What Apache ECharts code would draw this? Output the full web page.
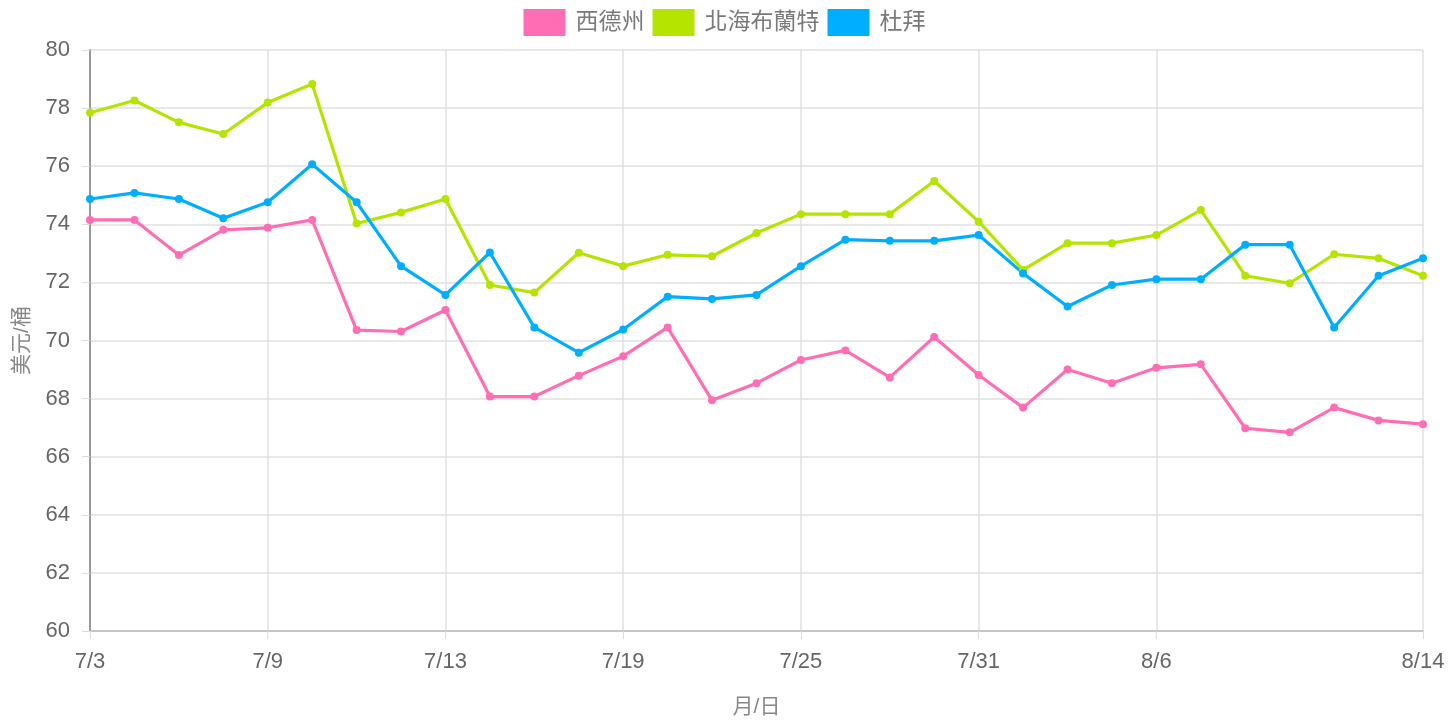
<!DOCTYPE html>
<html><head><meta charset="utf-8">
<script src="https://cdn.jsdelivr.net/npm/echarts@6/dist/echarts.min.js"></script>
<style>html,body{margin:0;padding:0;background:#fff}#c{width:1449px;height:722px}</style>
</head><body><div id="c"></div>
<script>
const categories = ['7/3','7/4','7/5','7/6','7/9','7/10','7/11','7/12','7/13','7/16','7/17','7/18','7/19','7/20','7/23','7/24','7/25','7/26','7/27','7/30','7/31','8/1','8/2','8/3','8/6','8/7','8/8','8/9','8/10','8/13','8/14'];
const wti = [74.15,74.15,72.94,73.81,73.88,74.15,70.36,70.31,71.05,68.07,68.07,68.79,69.46,70.45,67.94,68.53,69.33,69.66,68.73,70.12,68.81,67.69,69.0,68.53,69.06,69.18,66.98,66.84,67.69,67.25,67.12];
const brent = [77.84,78.26,77.51,77.11,78.19,78.83,74.03,74.41,74.87,71.91,71.65,73.02,72.56,72.95,72.9,73.7,74.35,74.35,74.35,75.49,74.09,72.43,73.35,73.35,73.63,74.49,72.23,71.97,72.97,72.83,72.23];
const dubai = [74.87,75.08,74.87,74.21,74.76,76.07,74.76,72.56,71.57,73.03,70.45,69.58,70.38,71.51,71.43,71.57,72.56,73.47,73.43,73.43,73.63,72.31,71.17,71.91,72.11,72.11,73.3,73.3,70.45,72.23,72.83];
const seriesNames = ['西德州','北海布蘭特','杜拜'];
const colors = ['#ff6eb4','#b4e400','#00aeff'];
const shown = i => (i % 4 === 0 && i <= 24) || i === 30;
const font = '"Liberation Sans", "Noto Sans CJK TC", Arial, sans-serif';
const chart = echarts.init(document.getElementById('c'));
chart.setOption({
  animation:false,
  textStyle:{fontFamily:font},
  color:colors,
  legend:{top:4,left:'center',itemWidth:42,itemHeight:27,itemGap:8,
    textStyle:{fontSize:23,color:'#7a7a7a',fontFamily:font,padding:[0,0,0,5]},
    icon:'rect',data:seriesNames},
  grid:{left:90,right:26,top:50,bottom:91,containLabel:false,outerBoundsMode:'none'},
  xAxis:{type:'category',data:categories,boundaryGap:false,
    name:'月/日',nameLocation:'middle',nameGap:66,
    nameTextStyle:{fontSize:21,color:'#888',fontFamily:font},
    axisLine:{lineStyle:{color:'#bbb',width:1.5}},
    axisTick:{show:true,length:8,interval:shown,lineStyle:{color:'#ddd'}},
    axisLabel:{interval:shown,fontSize:22,color:'#666',margin:20,fontFamily:font},
    splitLine:{show:true,interval:shown,lineStyle:{color:'#e0e0e0',width:1.5}}},
  yAxis:{type:'value',min:60,max:80,interval:2,
    name:'美元/桶',nameLocation:'middle',nameGap:57,nameRotate:90,
    nameTextStyle:{fontSize:21,color:'#888',fontFamily:font},
    axisLine:{show:true,lineStyle:{color:'#999',width:2}},
    axisTick:{show:true,length:8,lineStyle:{color:'#ddd'}},
    axisLabel:{fontSize:22,color:'#666',margin:20,fontFamily:font},
    splitLine:{show:true,lineStyle:{color:'#e0e0e0',width:1.5}}},
  series:[wti,brent,dubai].map((d,k)=>({
    name:seriesNames[k],type:'line',data:d,symbol:'circle',symbolSize:8,
    lineStyle:{width:3.2,color:colors[k]},itemStyle:{color:colors[k]}
  }))
});
</script></body></html>
